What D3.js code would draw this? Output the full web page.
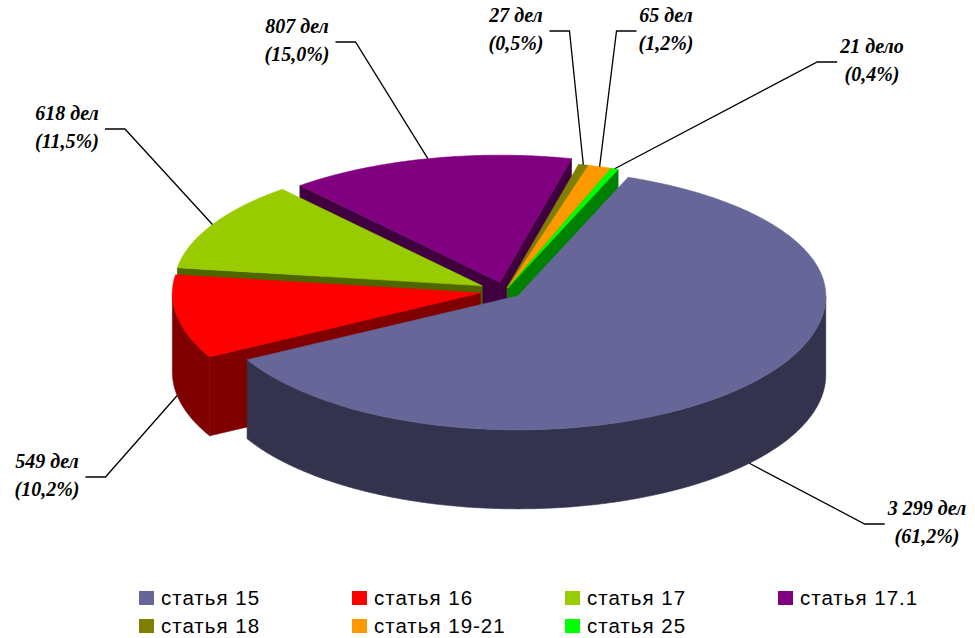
<!DOCTYPE html>
<html>
<head>
<meta charset="utf-8">
<script src="https://cdn.jsdelivr.net/npm/d3@7"></script>
<style>
  body { margin: 0; background: #fff; }
  svg { display: block; }
</style>
</head>
<body>
<svg id="chart"></svg>
<script>
// data
var categories = ["статья 15", "статья 16", "статья 17", "статья 17.1", "статья 18", "статья 19-21", "статья 25"];
var counts = [3299, 549, 618, 807, 27, 65, 21];
var shares = [61.2, 10.2, 11.5, 15.0, 0.5, 1.2, 0.4];
var colors = ["#666699", "#FF0000", "#99CC00", "#800080", "#808000", "#FF9900", "#00FF00"];

// layout of the slices and their labels (centre x, first baseline)
var explode = [17, 25, 26, 22, 8, 8, 8];
var labelPos = [[927, 515], [47, 468], [67, 120], [297, 33], [516, 22], [666, 22], [872, 53]];

var width = 975, height = 638;
var cx = 505, cy = 291, rx = 308, ryFront = 134, ryBack = 127, depth = 79;
var startDeg = 21;

var svg = d3.select("#chart")
    .attr("width", width)
    .attr("height", height);

var a0 = startDeg * Math.PI / 180;
var pie = d3.pie().sort(null).value(d => d)
    .startAngle(a0).endAngle(a0 + 2 * Math.PI);
var arcs = pie(counts);

var darker = function(c) {
    var r = d3.rgb(c);
    return d3.rgb(r.r / 2, r.g / 2, r.b / 2).formatHex();
};
var line = d3.line();
var down = p => [p[0], p[1] + depth];
// a bit of perspective: the far half of the disc is flatter
var ry = t => Math.cos(t) > 0 ? ryBack : ryFront;

var slices = arcs.map(function(a, i) {
    var mid = (a.startAngle + a.endAngle) / 2;
    var o = [cx + explode[i] * Math.sin(mid), cy - explode[i] * Math.cos(mid) * ry(mid) / rx];
    var pt = t => [o[0] + rx * Math.sin(t), o[1] - ry(t) * Math.cos(t)];
    var arcPts = function(t0, t1) {
        var n = Math.max(2, Math.ceil((t1 - t0) / (Math.PI / 360)));
        return d3.range(n + 1).map(k => pt(t0 + (t1 - t0) * k / n));
    };
    var top = [o].concat(arcPts(a.startAngle, a.endAngle));
    var walls = [];
    // radial walls, only those facing the viewer
    if (Math.sin(a.startAngle) < 0) {
        var p = pt(a.startAngle);
        walls.push([o, p, down(p), down(o)]);
    }
    if (Math.sin(a.endAngle) > 0) {
        var q = pt(a.endAngle);
        walls.push([o, q, down(q), down(o)]);
    }
    // outer front wall
    var t0 = Math.max(a.startAngle, Math.PI / 2), t1 = Math.min(a.endAngle, 3 * Math.PI / 2);
    if (t1 > t0) {
        var edge = arcPts(t0, t1);
        walls.push(edge.concat(edge.slice().reverse().map(down)));
    }
    // leader anchor
    var m = pt(mid);
    var anchor = Math.cos(mid) < 0 ? down(m) : m;
    return {
        i: i, top: top, walls: walls, anchor: anchor,
        key: d3.max(top, d => d[1])
    };
});

var order = slices.slice().sort((x, y) => x.key - y.key);

var gWalls = svg.append("g");
order.forEach(function(s) {
    gWalls.selectAll(null)
        .data(s.walls)
        .enter()
        .append("path")
        .attr("d", d => line(d) + "Z")
        .attr("fill", darker(colors[s.i]))
        .attr("stroke", darker(colors[s.i]))
        .attr("stroke-width", 0.6)
        .attr("stroke-linejoin", "round");
});

svg.append("g")
    .selectAll("path")
    .data(order)
    .enter()
    .append("path")
    .attr("d", d => line(d.top) + "Z")
    .attr("fill", d => colors[d.i])
    .attr("stroke", d => colors[d.i])
    .attr("stroke-width", 0.6)
    .attr("stroke-linejoin", "round");

// labels
var fmt = d3.formatLocale({ decimal: ",", thousands: " ", grouping: [3], currency: ["", ""] }).format(",d");
var word = n => (n % 10 === 1 && n % 100 !== 11) ? "дело" : "дел";
var pct = v => "(" + v.toFixed(1).replace(".", ",") + "%)";

var gLab = svg.append("g");
slices.forEach(function(s) {
    var n = counts[s.i];
    var lp = labelPos[s.i];
    var t = gLab.append("text")
        .attr("text-anchor", "middle")
        .attr("font-family", "'Liberation Serif', 'Times New Roman', serif")
        .attr("font-size", 20)
        .attr("font-weight", "bold")
        .attr("font-style", "italic")
        .attr("fill", "#000");
    t.append("tspan").attr("x", lp[0]).attr("y", lp[1]).text(fmt(n) + " " + word(n));
    t.append("tspan").attr("x", lp[0]).attr("y", lp[1] + 28).text(pct(shares[s.i]));
    var bb = t.node().getBBox();
    var hy = lp[1] + 9;
    var pts;
    if (s.anchor[0] > lp[0]) {
        var hx0 = bb.x + bb.width + 6;
        pts = [[hx0, hy], [hx0 + 20, hy], s.anchor];
    } else {
        var hx1 = bb.x - 2;
        pts = [[hx1, hy], [hx1 - 20, hy], s.anchor];
    }
    gLab.append("path")
        .attr("d", line(pts))
        .attr("fill", "none")
        .attr("stroke", "#000")
        .attr("stroke-width", 1.3);
});

// legend
var colX = d3.scalePoint().domain([0, 1, 2, 3]).range([139, 778]);
var rowY = d3.scalePoint().domain([0, 1]).range([591, 619]);

var leg = svg.append("g")
    .selectAll("g")
    .data(categories)
    .enter()
    .append("g")
    .attr("transform", (d, i) => "translate(" + colX(i % 4) + "," + rowY(Math.floor(i / 4)) + ")");

leg.append("rect")
    .attr("width", 15)
    .attr("height", 14)
    .attr("fill", (d, i) => colors[i]);

leg.append("text")
    .attr("x", 22)
    .attr("y", 14)
    .attr("font-family", "'Liberation Sans', Arial, sans-serif")
    .attr("font-size", 20.5)
    .attr("letter-spacing", 1)
    .attr("fill", "#000")
    .text(d => d);
</script>
</body>
</html>
